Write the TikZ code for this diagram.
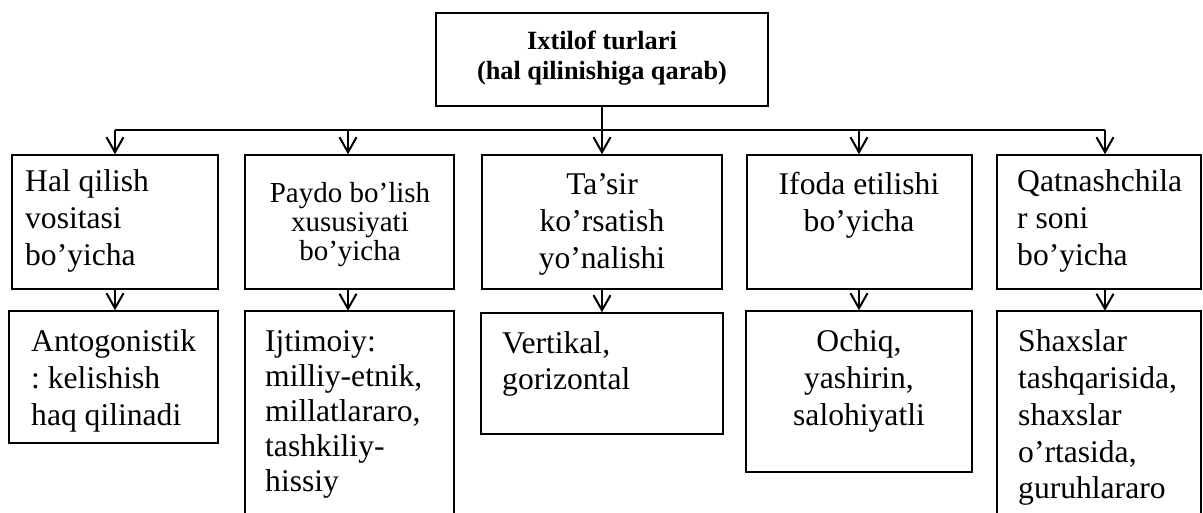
\documentclass[tikz,border=0pt]{standalone}
\usepackage{fontspec}
\setmainfont{Liberation Serif}
\usetikzlibrary{arrows.meta}
\frenchspacing
\newcommand{\mlines}[2]{\begin{tabular}[t]{@{}#1@{}}#2\end{tabular}}
\tikzset{
  box/.style={draw, line width=1.5pt, inner sep=0pt},
  openbox/.style={inner sep=0pt},
  conn/.style={line width=2pt},
  arr/.style={line width=2pt, -{Straight Barb[length=15pt,width=17pt,line width=2pt]}},
  body/.style={inner sep=0pt, font=\fontsize{31.6}{36.7}\selectfont},
  small/.style={inner sep=0pt, font=\fontsize{29}{29}\selectfont},
  title/.style={inner sep=0pt, font=\bfseries\fontsize{26.3}{30}\selectfont}
}
\begin{document}
\begin{tikzpicture}[x=1pt,y=-1pt]
\useasboundingbox (0,0) rectangle (1203,513);
% top box
\node[box, minimum width=332, minimum height=93] (T) at (602,59.5) {};
\node[title, anchor=base] (tT) at (602,50) {\mlines{c}{Ixtilof turlari\\(hal qilinishiga qarab)}};
% row 1 boxes
\node[box, minimum width=206, minimum height=134] (b1) at (115,222) {};
\node[box, minimum width=209, minimum height=134] (b2) at (349.5,222) {};
\node[box, minimum width=240, minimum height=134] (b3) at (602,222) {};
\node[box, minimum width=225, minimum height=134] (b4) at (859.5,222) {};
\node[box, minimum width=204, minimum height=134] (b5) at (1099,222) {};
% row 2 boxes
\node[box, minimum width=209, minimum height=132] (c1) at (113.5,377) {};
\node[openbox, minimum width=209, minimum height=212] (c2) at (349.5,417) {};
\node[box, minimum width=242, minimum height=121] (c3) at (602,373.5) {};
\node[box, minimum width=226, minimum height=161] (c4) at (859,391.5) {};
\node[openbox, minimum width=204, minimum height=212] (c5) at (1099,417) {};
\draw[line width=1.5pt] (c2.south west) -- (c2.north west) -- (c2.north east) -- (c2.south east);
\draw[line width=1.5pt] (c5.south west) -- (c5.north west) -- (c5.north east) -- (c5.south east);
% texts row 1
\node[body, anchor=base west] (t1) at (25,192) {\mlines{l}{Hal qilish\\vositasi\\bo’yicha}};
\node[small, anchor=base] (t2) at (350,203) {\mlines{c}{Paydo bo’lish\\xususiyati\\bo’yicha}};
\node[body, anchor=base] (t3) at (602,195) {\mlines{c}{Ta’sir\\ko’rsatish\\yo’nalishi}};
\node[body, anchor=base] (t4) at (859,195) {\mlines{c}{Ifoda etilishi\\bo’yicha}};
\node[body, anchor=base west] (t5) at (1017,192) {\mlines{l}{Qatnashchila\\r soni\\bo’yicha}};
% texts row 2
\node[body, anchor=base west] (u1) at (31,352) {\mlines{l}{Antogonistik\\: kelishish\\haq qilinadi}};
\node[body, anchor=base west, font=\fontsize{31.6}{35}\selectfont] (u2) at (265,352) {\mlines{l}{Ijtimoiy:\\milliy-etnik,\\millatlararo,\\tashkiliy-\\hissiy}};
\node[body, anchor=base west] (u3) at (502,353) {\mlines{l}{Vertikal,\\gorizontal}};
\node[body, anchor=base] (u4) at (859,352) {\mlines{c}{Ochiq,\\yashirin,\\salohiyatli}};
\node[body, anchor=base west] (u5) at (1018,352) {\mlines{l}{Shaxslar\\tashqarisida,\\shaxslar\\o’rtasida,\\guruhlararo}};
% bus
\coordinate (d1) at (115,130);
\coordinate (d2) at (348,130);
\coordinate (d3) at (602,130);
\coordinate (d4) at (859,130);
\coordinate (d5) at (1105,130);
\draw[conn] (T.south) -- (d3);
\draw[conn] (d1) -- (d5);
\foreach \i in {1,...,5}{
  \draw[arr] (d\i) -- (d\i |- b\i.north);
  \draw[arr] (d\i |- b\i.south) -- (d\i |- c\i.north);
}
\end{tikzpicture}
\end{document}
